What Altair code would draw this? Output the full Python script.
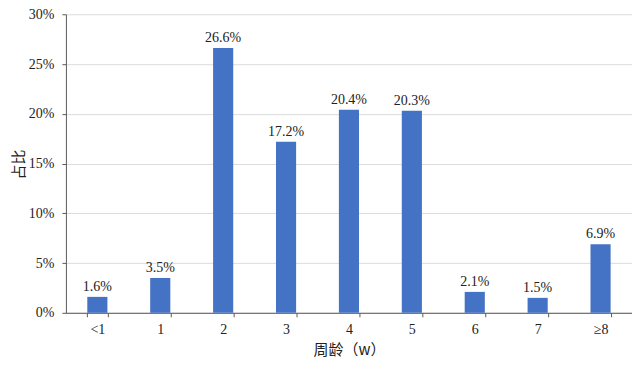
import altair as alt
import pandas as pd

categories = ["<1", "1", "2", "3", "4", "5", "6", "7", "≥8"]
values = [0.016, 0.035, 0.266, 0.172, 0.204, 0.203, 0.021, 0.015, 0.069]
labels = ["1.6%", "3.5%", "26.6%", "17.2%", "20.4%", "20.3%", "2.1%", "1.5%", "6.9%"]

df = pd.DataFrame({"cat": categories, "val": values, "lab": labels})

FONT = "'Liberation Serif', 'Noto Sans CJK SC', serif"
CJK = "'Noto Sans CJK SC', sans-serif"

base = alt.Chart(df).encode(
    x=alt.X("cat:N", sort=categories,
            scale=alt.Scale(paddingInner=0.68, paddingOuter=0.34),
            axis=alt.Axis(title="周龄（w）", labelAngle=0, tickBand="extent",
                          domainColor="#595959", tickColor="#595959", tickSize=4,
                          labelPadding=6, labelFont=FONT, labelFontSize=14,
                          labelColor="#222222", titleFont=CJK,
                          titleFontSize=15, titleFontWeight="normal",
                          titleColor="#222222", titlePadding=6, grid=False)),
    y=alt.Y("val:Q", scale=alt.Scale(domain=[0, 0.3]),
            axis=alt.Axis(title="占比", format=".0%", values=[0, 0.05, 0.1, 0.15, 0.2, 0.25, 0.3],
                          domainColor="#595959", tickColor="#595959", tickSize=4,
                          labelPadding=8, labelFont=FONT, labelFontSize=14,
                          labelColor="#222222", gridColor="#DCDCDC",
                          titleFont=CJK, titleFontSize=15,
                          titleFontWeight="normal", titleColor="#222222",
                          titleAngle=-90, titleX=-47, titleY=150,
                          titleAlign="center", titleBaseline="middle")),
)

bars = base.mark_bar(color="#4472C4")
text = base.mark_text(dy=-10, font=FONT, fontSize=14, color="#222222").encode(text="lab:N")

chart = (bars + text).properties(
    width=567, height=299,
    autosize=alt.AutoSizeParams(type="none"),
    padding={"left": 58, "top": 6, "right": 0, "bottom": 45},
).configure_view(stroke=None)

chart.save("out.html", embed_options={"renderer": "svg", "actions": False})
